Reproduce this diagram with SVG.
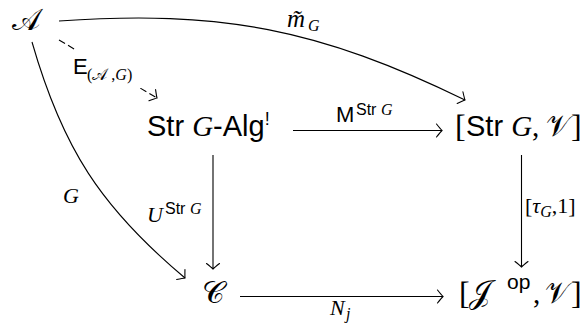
<svg xmlns="http://www.w3.org/2000/svg" width="584" height="326" viewBox="0 0 584 326">
<defs>
<marker id="to" markerUnits="userSpaceOnUse" markerWidth="16" markerHeight="16" refX="0" refY="0" viewBox="-10 -8 12 16" orient="auto" overflow="visible">
<path d="M-5.5,-6.5 Q-1.5,-1.5 0,0 Q-1.5,1.5 -5.5,6.5" fill="none" stroke="#000" stroke-width="1.1" stroke-linecap="round"/>
</marker>
</defs>
<style>
.sf{font-family:"Liberation Sans",Arial,sans-serif}
.mi{font-family:"Liberation Serif","Times New Roman",serif;font-style:italic}
.sc{font-family:"DejaVu Serif","DejaVu Sans","Noto Sans",serif}
.rm{font-family:"Liberation Serif","Times New Roman",serif}
.n{font-size:29px}
.l{font-size:22px}
.s{font-size:16px}
.e{fill:none;stroke:#000;stroke-width:1.1;marker-end:url(#to)}
</style>
<g id="connectors">
<path class="e" d="M59,21 C220.6,9.7 319.4,29 465,100"/>
<path class="e" d="M32,42 C62.3,147.7 100.7,207.3 185,278"/>
<path class="e" d="M59,40 L157,98" stroke-dasharray="7 3.5"/>
<path class="e" d="M293,130.5 L442,130.5"/>
<path class="e" d="M213,155 L213,269"/>
<path class="e" d="M521.5,155 L521.5,267"/>
<path class="e" d="M240,296.5 L443,296.5"/>
<rect x="72" y="50" width="72" height="38" fill="#fff"/>
<g id="lbl-m"><text x="287" y="27" class="mi" font-size="25">m&#771;</text><text x="308" y="31" class="mi s">G</text></g>
<g id="lbl-E"><text x="73" y="74" class="sf l">E</text><text x="87" y="80" class="s"><tspan class="rm">(</tspan><tspan class="sc">&#x1D49C;</tspan><tspan class="rm"> ,</tspan><tspan class="mi">G</tspan><tspan class="rm">)</tspan></text></g>
<g id="lbl-M"><text x="336" y="122" class="sf l">M</text><text x="356" y="115" class="s"><tspan class="sf">Str </tspan><tspan class="mi">G</tspan></text></g>
<g id="lbl-U"><text x="147" y="222" class="mi l">U</text><text x="165" y="214" class="s"><tspan class="sf">Str </tspan><tspan class="mi">G</tspan></text></g>
<g id="lbl-G"><text x="63" y="203" class="mi l">G</text></g>
<g id="lbl-N"><text x="330" y="315" class="mi l">N</text><text x="346" y="319" class="mi s">j</text></g>
<g id="lbl-tau"><text x="525" y="213" class="l"><tspan class="rm">[</tspan><tspan class="mi">τ</tspan><tspan class="mi s" dy="4">G</tspan><tspan class="rm" dy="-4">,1]</tspan></text></g>
</g>
<g id="node-A"><text x="26" y="30" text-anchor="middle" class="sc" font-size="30">&#x1D49C;</text></g>
<g id="node-StrAlg"><text x="147" y="136" class="n"><tspan class="sf">Str </tspan><tspan class="mi">G</tspan><tspan class="sf">-Alg</tspan><tspan class="sf" font-size="18" dy="-11">!</tspan></text></g>
<g id="node-StrV"><text x="455" y="137" class="rm" font-size="32">[</text><text x="466" y="136" class="n"><tspan class="sf">Str </tspan><tspan class="mi">G</tspan><tspan class="rm">, </tspan></text><text x="546" y="136" class="sc" font-size="30">&#x1D4B1;</text><text x="571" y="137" class="rm" font-size="32">]</text></g>
<g id="node-C"><text x="213" y="303" text-anchor="middle" class="sc" font-size="31">&#x1D49E;</text></g>
<g id="node-JV"><text x="459" y="304" class="rm" font-size="32">[</text><text x="469" y="303" class="sc" font-size="32">&#x1D4A5;</text><text x="507" y="289" class="sf" font-size="21">op</text><text x="533" y="303" class="rm n">,</text><text x="545" y="303" class="sc" font-size="30">&#x1D4B1;</text><text x="571" y="304" class="rm" font-size="32">]</text></g>
</svg>
